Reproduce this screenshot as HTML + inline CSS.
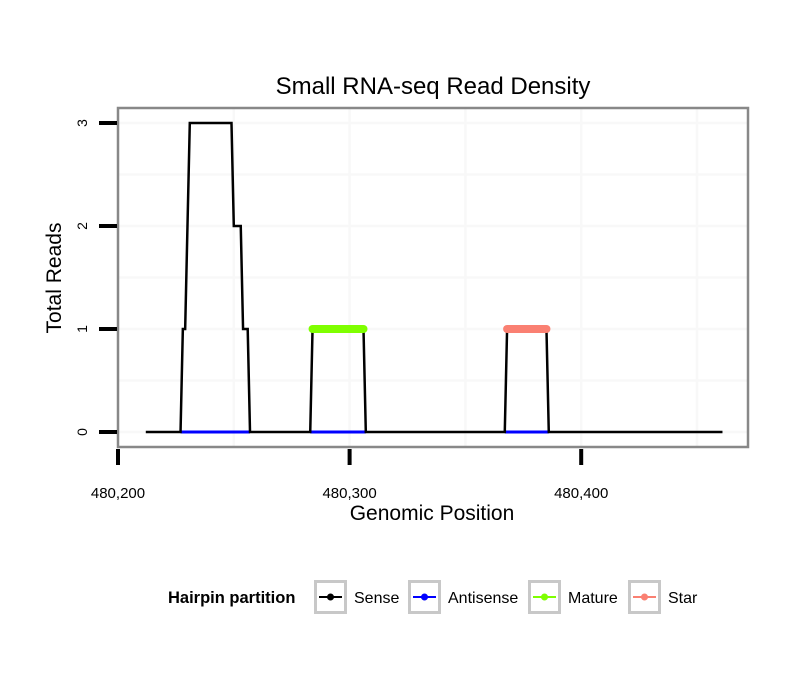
<!DOCTYPE html>
<html><head><meta charset="utf-8"><style>
body{margin:0;background:#fff;}
svg{display:block;font-family:"Liberation Sans",sans-serif;}
</style></head><body>
<svg id="chart" width="810" height="690" viewBox="0 0 810 690">
<text x="433" y="94" text-anchor="middle" font-size="24">Small RNA-seq Read Density</text>
<g id="grid"></g>
<g id="series"></g>
<rect x="118" y="108" width="630" height="339" fill="none" stroke="#888" stroke-width="2.5"/>
<g id="axes"></g>
<text x="432" y="520" text-anchor="middle" font-size="21">Genomic Position</text>
<text transform="translate(61,278) rotate(-90)" text-anchor="middle" font-size="21">Total Reads</text>
<g>
<text x="168" y="603" font-size="16.5" font-weight="bold">Hairpin partition</text>
<g id="legend"></g>
</g>
</svg>
<script>
const xTicks=[480200,480300,480400];
const xTickLabels=["480,200","480,300","480,400"];
const yTicks=[0,1,2,3];
const yTickLabels=["0","1","2","3"];
const sensePos=[480212,480227,480228,480229,480231,480249,480250,480253,480254,480256,480257,480283,480284,480306,480307,480367,480368,480385,480386,480461];
const senseVal=[0,0,1,1,3,3,2,2,1,1,0,0,1,1,0,0,1,1,0,0];
const antisenseSegments=[[480227,480257],[480283,480307],[480367,480386]];
const maturePos=[480284,480306];
const matureVal=[1,1];
const starPos=[480368,480385];
const starVal=[1,1];
const legendLabels=["Sense","Antisense","Mature","Star"];
const legendColors=["#000000","#0000ff","#7fff00","#fa8072"];

const NS="http://www.w3.org/2000/svg";
const X=v=>118+(v-480200)*2.316;
const Y=v=>432-v*103;
function mk(tag,attrs,parent){const e=document.createElementNS(NS,tag);for(const k in attrs)e.setAttribute(k,attrs[k]);parent.appendChild(e);return e;}
const grid=document.getElementById('grid'),axes=document.getElementById('axes'),series=document.getElementById('series'),legend=document.getElementById('legend');
[480200,480250,480300,480350,480400,480450].forEach(v=>{const x=X(v);if(x>119&&x<747){const l=mk('line',{x1:x,x2:x,y1:109,y2:446,stroke:'#f8f8f8','stroke-width':2.5},grid);

}});
[0,0.5,1,1.5,2,2.5,3].forEach(v=>{const y=Y(v);const l=mk('line',{x1:119,x2:747,y1:y,y2:y,stroke:'#f8f8f8','stroke-width':2.5},grid);

});
xTicks.forEach((v,i)=>{const x=X(v);const t=mk('line',{x1:x,x2:x,y1:449,y2:465,stroke:'#000','stroke-width':4},axes);


const tx=mk('text',{x:x,y:498,'text-anchor':'middle','font-size':15},axes);tx.textContent=xTickLabels[i];

});
yTicks.forEach((v,i)=>{const y=Y(v);const t=mk('line',{x1:99,x2:117,y1:y,y2:y,stroke:'#000','stroke-width':4},axes);


const tx=mk('text',{transform:`translate(87,${y}) rotate(-90)`,'text-anchor':'middle','font-size':14},axes);tx.textContent=yTickLabels[i];

});
antisenseSegments.forEach(s=>{const l=mk('line',{x1:X(s[0]),x2:X(s[1]),y1:Y(0),y2:Y(0),stroke:'#0000ff','stroke-width':3},series);

});
const sp=mk('polyline',{points:sensePos.map((p,i)=>X(p)+','+Y(senseVal[i])).join(' '),fill:'none',stroke:'#000','stroke-width':2.5},series);


const mp=mk('polyline',{points:maturePos.map((p,i)=>X(p)+','+Y(matureVal[i])).join(' '),fill:'none',stroke:'#7fff00','stroke-width':8,'stroke-linecap':'round'},series);


const stp=mk('polyline',{points:starPos.map((p,i)=>X(p)+','+Y(starVal[i])).join(' '),fill:'none',stroke:'#fa8072','stroke-width':8,'stroke-linecap':'round'},series);


const lx=[314,408,528,628];
legendLabels.forEach((lab,i)=>{const g=mk('g',{},legend);


mk('rect',{x:lx[i]+1.5,y:581.5,width:30,height:31,fill:'#fff',stroke:'#c8c8c8','stroke-width':3},g);
mk('line',{x1:lx[i]+5,x2:lx[i]+28,y1:597,y2:597,stroke:legendColors[i],'stroke-width':2},g);
mk('circle',{cx:lx[i]+16.5,cy:597,r:3.5,fill:legendColors[i]},g);
const t=mk('text',{x:lx[i]+40,y:603,'font-size':16},g);t.textContent=lab;});
</script>
</body></html>
